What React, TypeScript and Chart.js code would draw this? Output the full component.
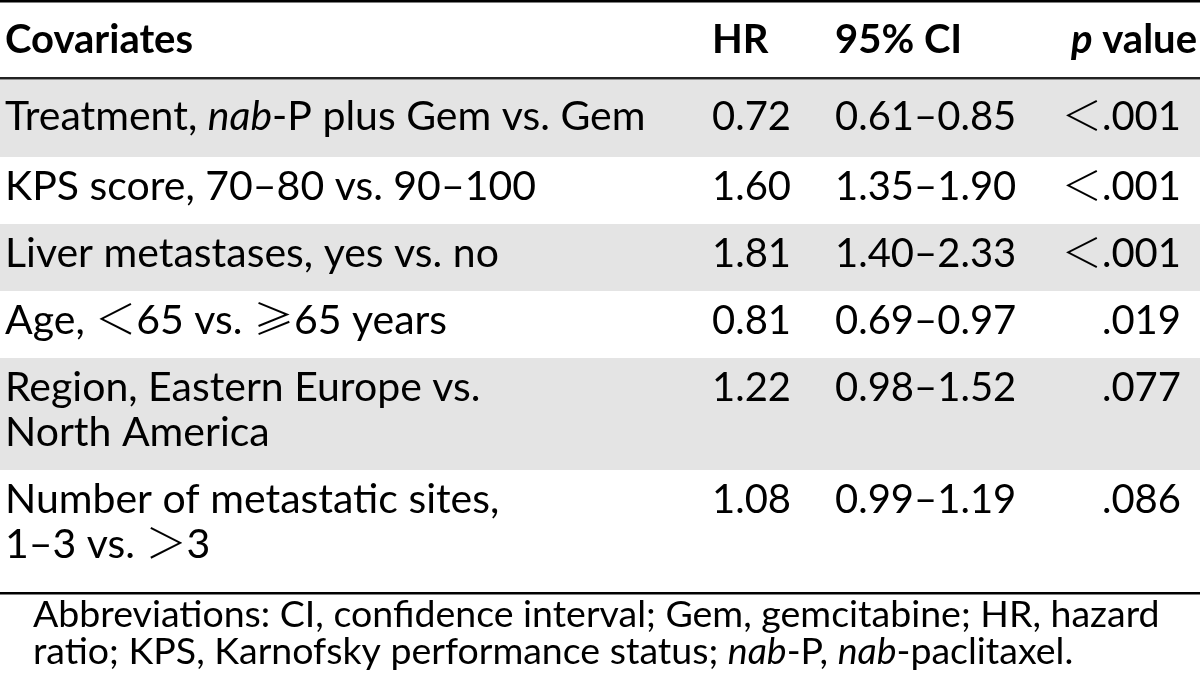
import { useEffect, useRef } from "react";
import { Chart, registerables } from "chart.js";

Chart.register(...registerables);

// ---- data ----
const headers = ["Covariates", "HR", "95% CI", "*p* value"];
const covariates: string[][] = [
  ["Treatment, *nab*-P plus Gem vs. Gem"],
  ["KPS score, 70–80 vs. 90–100"],
  ["Liver metastases, yes vs. no"],
  ["Age, ＜65 vs. ≥65 years"],
  ["Region, Eastern Europe vs.", "North America"],
  ["Number of metastatic sites,", "1–3 vs. ＞3"],
];
const hazardRatios = ["0.72", "1.60", "1.81", "0.81", "1.22", "1.08"];
const confidenceIntervals = ["0.61–0.85", "1.35–1.90", "1.40–2.33", "0.69–0.97", "0.98–1.52", "0.99–1.19"];
const pValues = ["＜.001", "＜.001", "＜.001", ".019", ".077", ".086"];
const footnote = [
  "Abbreviations: CI, confidence interval; Gem, gemcitabine; HR, hazard",
  "ratio; KPS, Karnofsky performance status; *nab*-P, *nab*-paclitaxel.",
];

const FAMILY = "Lato, 'Noto Sans CJK SC', sans-serif";
const CJK_FAMILY = "'Noto Sans CJK SC', Lato, sans-serif";
const CJK_CHARS = "＜＞≥";
const STRIPE = "#e4e4e4";

type Run = { t: string; italic: boolean; cjk: boolean };

function toRuns(text: string): Run[] {
  const runs: Run[] = [];
  text.split("*").forEach((part, i) => {
    const italic = i % 2 === 1;
    let cur = "";
    let curCjk = false;
    for (const ch of part) {
      const c = CJK_CHARS.includes(ch);
      if (cur && c !== curCjk) {
        runs.push({ t: cur, italic, cjk: curCjk });
        cur = "";
      }
      cur += ch;
      curCjk = c;
    }
    if (cur) runs.push({ t: cur, italic, cjk: curCjk });
  });
  return runs;
}

function drawRich(
  ctx: CanvasRenderingContext2D,
  text: string,
  x: number,
  y: number,
  align: "left" | "right",
  size: number,
  bold: boolean
) {
  const runs = toRuns(text);
  const fontFor = (r: Run) =>
    `${r.italic ? "italic " : ""}${bold ? "bold " : ""}${r.cjk ? 300 : ""} ${size}px ${r.cjk ? CJK_FAMILY : FAMILY}`.replace("  ", " ");
  let total = 0;
  runs.forEach((r) => {
    ctx.font = fontFor(r);
    total += ctx.measureText(r.t).width;
  });
  let cx = align === "right" ? x - total : x;
  ctx.textAlign = "left";
  ctx.textBaseline = "alphabetic";
  runs.forEach((r) => {
    ctx.font = fontFor(r);
    ctx.fillText(r.t, cx, y);
    cx += ctx.measureText(r.t).width;
  });
}

const tablePlugin = {
  id: "tableDraw",
  afterDraw(chart: any) {
    const ctx: CanvasRenderingContext2D = chart.ctx;
    const xs = chart.scales.x;
    const ys = chart.scales.y;
    const X = (v: number) => xs.getPixelForValue(v);
    const Y = (v: number) => ys.getPixelForValue(v);
    const left = X(0);
    const right = X(1200);
    ctx.save();
    ctx.fillStyle = "#ffffff";
    ctx.fillRect(left, Y(0), right - left, Y(691) - Y(0));

    const bodySize = 40;
    const covSize = 41;
    const colCov = 5;
    const colHR = 712;
    const colCI = 835;
    const colP = 1181;

    // top rule
    ctx.fillStyle = "#000";
    ctx.fillRect(left, Y(0), right - left, 2.5);
    // header
    drawRich(ctx, headers[0], X(colCov), Y(53), "left", bodySize, true);
    drawRich(ctx, headers[1], X(colHR), Y(53), "left", bodySize, true);
    drawRich(ctx, headers[2], X(colCI), Y(53), "left", bodySize, true);
    drawRich(ctx, headers[3], X(1197), Y(53), "right", bodySize, true);

    // rows
    let top = 80;
    const lineH = 45;
    covariates.forEach((lines, i) => {
      const h = 22 + lines.length * lineH + (i === 0 ? 10 : 0);
      if (i % 2 === 0) {
        ctx.fillStyle = STRIPE;
        ctx.fillRect(left, Y(top), right - left, Y(top + h) - Y(top));
      }
      const base = top + 43 + (i === 0 ? 7 : 0);
      ctx.fillStyle = "#000";
      lines.forEach((ln, j) => drawRich(ctx, ln, X(colCov), Y(base + j * lineH), "left", covSize, false));
      drawRich(ctx, hazardRatios[i], X(colHR), Y(base), "left", bodySize, false);
      drawRich(ctx, confidenceIntervals[i], X(colCI), Y(base), "left", bodySize, false);
      drawRich(ctx, pValues[i], X(colP), Y(base), "right", bodySize, false);
      top += h;
    });
    // header rule
    ctx.fillStyle = "#222";
    ctx.fillRect(left, Y(77), right - left, 2.5);
    // bottom rule
    const bottom = top + 10;
    ctx.fillStyle = "#000";
    ctx.fillRect(left, Y(bottom), right - left, 2.5);

    // footnote
    footnote.forEach((ln, j) =>
      drawRich(ctx, ln, X(33), Y(bottom + 35 + j * 37), "left", 37.5, false)
    );
    ctx.restore();
  },
};

export default function App() {
  const ref = useRef<HTMLCanvasElement | null>(null);
  useEffect(() => {
    document.body.style.margin = "0";
    if (!ref.current) return;
    const chart = new Chart(ref.current, {
      type: "scatter",
      data: { datasets: [] },
      options: {
        animation: false,
        responsive: true,
        maintainAspectRatio: false,
        layout: { padding: 0 },
        plugins: { legend: { display: false }, tooltip: { enabled: false } },
        scales: {
          x: { type: "linear", min: 0, max: 1200, display: false },
          y: { type: "linear", min: 0, max: 691, reverse: true, display: false },
        },
      },
      plugins: [tablePlugin],
    });
    return () => chart.destroy();
  }, []);
  return (
    <div style={{ width: 1200, height: 691, position: "relative", background: "#fff" }}>
      <canvas ref={ref} />
    </div>
  );
}
